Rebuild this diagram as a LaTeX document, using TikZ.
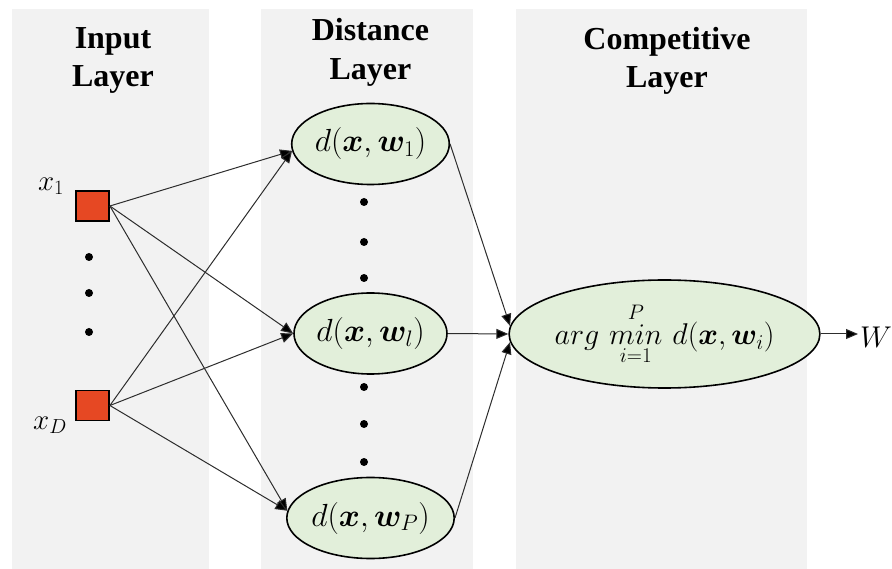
\RequirePackage{fix-cm}
\documentclass[tikz,border=0pt]{standalone}
\usepackage{amsmath}
\usepackage{bm}
\usepackage{fontspec}
\setmainfont{Liberation Serif}
\newfontfamily\headfont{Liberation Serif}[UprightFont={* Bold}]
\usetikzlibrary{arrows.meta,shapes.geometric}

\definecolor{panelgray}{RGB}{242,242,242}
\definecolor{inputred}{RGB}{230,72,35}
\definecolor{nodegreen}{RGB}{226,239,218}
\definecolor{wiregray}{RGB}{45,45,45}

\tikzset{
  panel/.style={fill=panelgray, draw=none},
  heading/.style={font=\fontsize{32}{38}\selectfont\headfont, inner sep=0pt, anchor=base},
  inputbox/.style={draw=black, line width=1.8pt, fill=inputred, minimum width=33pt,
                   minimum height=30pt, inner sep=0pt},
  distnode/.style={ellipse, draw=black, line width=1.6pt, fill=nodegreen,
                   minimum width=149pt, minimum height=81pt, inner sep=0pt,
                   font=\fontsize{32}{38}\selectfont},
  compnode/.style={ellipse, draw=black, line width=1.6pt, fill=nodegreen,
                   minimum width=249pt, minimum height=108pt, inner sep=0pt,
                   font=\fontsize{30}{36}\selectfont},
  varlabel/.style={font=\fontsize{29}{34}\selectfont, inner sep=0pt},
  conn/.style={draw=wiregray, line width=1pt,
               -{Triangle[length=12pt,width=10pt,fill=black]}},
  vdot/.style={circle, fill=black, minimum size=8pt, inner sep=0pt}
}

\begin{document}
\begin{tikzpicture}[x=1pt,y=-1pt]
\useasboundingbox (0,0) rectangle (892,569);

% layer panels
\fill[panel] (12,9) rectangle (209,569);
\fill[panel] (261,9) rectangle (473,569);
\fill[panel] (516,9) rectangle (807,569);

% layer headings
\node[heading] (h1a) at (113,49) {Input};
\node[heading] (h1b) at (113,87) {Layer};
\node[heading] (h2a) at (370.5,41) {Distance};
\node[heading] (h2b) at (370.5,80) {Layer};
\node[heading] (h3a) at (667,50) {Competitive};
\node[heading] (h3b) at (667,88) {Layer};

% input units
\node[inputbox] (x1) at (92.5,206) {};
\node[inputbox] (xD) at (92.5,405.5) {};
\node[varlabel] (lx1) at (51,186) {$x_1$};
\node[varlabel] (lxD) at (50,425) {$x_D$};

\node[vdot] (ia) at (89,257) {};
\node[vdot] (ib) at (89,293) {};
\node[vdot] (ic) at (89,332) {};

% distance units
\node[distnode] (d1) at (370.5,144) {$d(\bm{x},\bm{w}_1)$};
\node[distnode] (dl) at (370.5,333.5) {$d(\bm{x},\bm{w}_l)$};
\node[distnode] (dP) at (370.5,518) {$d(\bm{x},\bm{w}_P)$};

\node[vdot] (da) at (364,202) {};
\node[vdot] (db) at (364,242) {};
\node[vdot] (dc) at (364,278) {};
\node[vdot] (dd) at (364,387) {};
\node[vdot] (de) at (364,424) {};
\node[vdot] (df) at (364,462) {};

% competitive unit and output
\node[compnode] (c) at (664.5,334)
  {$arg\,\mathop{min}\limits_{i=1}^{P}\, d(\bm{x},\bm{w}_i)$};
\node[varlabel, font=\fontsize{30}{35}\selectfont, anchor=base west] (w) at (860,348) {$W$};

% connections
\draw[conn] (x1.east) -- (d1.185);
\draw[conn] (x1.east) -- (dl.west);
\draw[conn] (x1.east) -- (dP.175);
\draw[conn] (xD.east) -- (d1.185);
\draw[conn] (xD.east) -- (dl.west);
\draw[conn] (xD.east) -- (dP.175);

\draw[conn] (d1.east) -- (c.177);
\draw[conn] (dl.east) -- (c.west);
\draw[conn] (dP.east) -- (c.183);

\draw[conn, shorten >=2pt] (c.east) -- (c.east -| w.west);
\end{tikzpicture}
\end{document}
